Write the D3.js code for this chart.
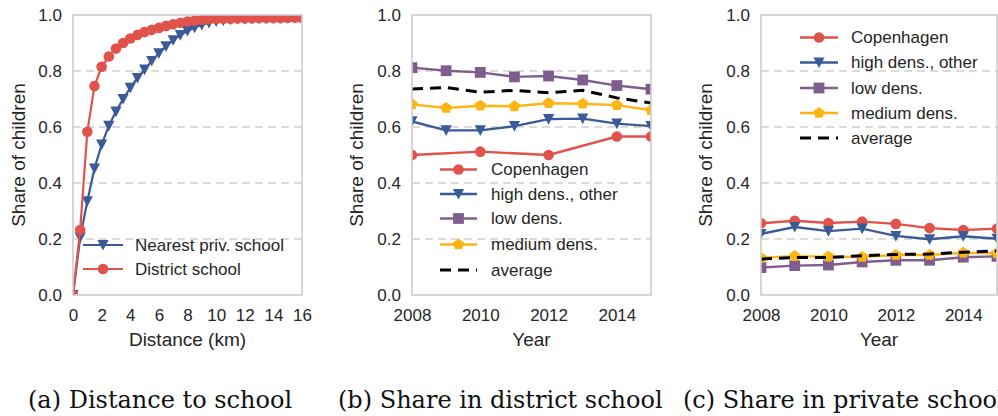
<!DOCTYPE html>
<html><head><meta charset="utf-8">
<script src="https://cdn.jsdelivr.net/npm/d3@7/dist/d3.min.js"></script>
<style>body{margin:0;background:#fff;} svg{display:block;}</style>
</head><body>
<svg id="chart" width="998" height="416"></svg>
<script>
// ---------------- DATA ----------------
const distanceKm = [0,0.5,1,1.5,2,2.5,3,3.5,4,4.5,5,5.5,6,6.5,7,7.5,8,8.5,9,9.5,10,10.5,11,11.5,12,12.5,13,13.5,14,14.5,15,15.5,16];
const nearestPrivSchool = [0.0,0.205,0.335,0.452,0.537,0.604,0.655,0.700,0.740,0.775,0.805,0.836,0.863,0.888,0.910,0.928,0.943,0.955,0.965,0.972,0.977,0.980,0.983,0.985,0.986,0.987,0.988,0.988,0.989,0.989,0.989,0.990,0.990];
const districtSchool = [0.0,0.232,0.583,0.746,0.815,0.852,0.880,0.900,0.916,0.929,0.939,0.947,0.954,0.961,0.967,0.972,0.977,0.980,0.983,0.985,0.986,0.987,0.987,0.988,0.988,0.988,0.989,0.989,0.989,0.989,0.990,0.990,0.990];

const years = [2008,2009,2010,2011,2012,2013,2014,2015];
// (b) share in district school
const distCopenhagen = [0.500,null,0.512,null,0.500,null,0.566,0.566];
const distHighDens   = [0.620,0.588,0.588,0.603,0.628,0.630,0.612,0.603];
const distLowDens    = [0.812,0.801,0.795,0.779,0.782,0.768,0.748,0.735];
const distMediumDens = [0.681,0.668,0.676,0.674,0.685,0.683,0.678,0.660];
const distAverage    = [0.736,0.741,0.724,0.731,0.722,0.731,0.704,0.686];
// (c) share in private school
const privCopenhagen = [0.256,0.265,0.257,0.262,0.254,0.239,0.232,0.237];
const privHighDens   = [0.218,0.243,0.228,0.237,0.211,0.199,0.210,0.201];
const privLowDens    = [0.098,0.105,0.107,0.118,0.124,0.124,0.135,0.138];
const privMediumDens = [0.133,0.139,0.137,0.136,0.143,0.143,0.151,0.149];
const privAverage    = [0.128,0.134,0.134,0.140,0.145,0.146,0.153,0.157];

const seriesNames = ["Copenhagen","high dens., other","low dens.","medium dens.","average"];
const distSeriesNames = ["Nearest priv. school","District school"];
const yTickValues = [0,0.2,0.4,0.6,0.8,1.0];
const distTickValues = [0,2,4,6,8,10,12,14,16];
const yearTickValues = [2008,2010,2012,2014];
const captions = ["(a) Distance to school","(b) Share in district school","(c) Share in private school"];

// ---------------- STYLE ----------------
const SANS = "'Liberation Sans', Arial, Helvetica, sans-serif";
const SERIF = "'DejaVu Serif', serif";
const TXT = "#262626";
const C = {red:"#e1524a", blue:"#3a5a98", purple:"#7f5e8f", yellow:"#fcb513", black:"#000000"};
const styles = [
  {color:C.red, marker:"circle"},
  {color:C.blue, marker:"tri"},
  {color:C.purple, marker:"square"},
  {color:C.yellow, marker:"pent"},
  {color:C.black, marker:null, dash:"11,7"}
];

function markerPath(type){
  if(type==="circle"){ const r=5.3; return `M${r},0A${r},${r} 0 1,1 ${-r},0A${r},${r} 0 1,1 ${r},0Z`; }
  if(type==="square"){ const h=5.4; return `M${-h},${-h}H${h}V${h}H${-h}Z`; }
  if(type==="tri"){ const h=5.6; return `M${-h},${-h*0.9}L${h},${-h*0.9}L0,${h*1.0}Z`; }
  if(type==="pent"){ const r=6; let p=""; for(let i=0;i<5;i++){const a=-Math.PI/2+i*2*Math.PI/5; p+=(i?"L":"M")+(r*Math.cos(a)).toFixed(2)+","+(r*Math.sin(a)).toFixed(2);} return p+"Z"; }
  return "";
}

const svg = d3.select("#chart");
const TOP = 15, BOTTOM = 295;

function makePanel(cfg, idx){
  const x = d3.scaleLinear().domain(cfg.xDomain).range([cfg.x0, cfg.x1]);
  const y = d3.scaleLinear().domain([0,1]).range([BOTTOM, TOP]);
  const g = svg.append("g");
  const clipId = "clip"+idx;
  svg.append("clipPath").attr("id", clipId).append("rect")
    .attr("x", cfg.x0).attr("y", TOP).attr("width", cfg.x1-cfg.x0).attr("height", BOTTOM-TOP);

  // grid
  g.selectAll("line.grid").data(yTickValues.filter(v=>v>0 && v<1)).join("line")
    .attr("x1", cfg.x0).attr("x2", cfg.x1)
    .attr("y1", d=>y(d)).attr("y2", d=>y(d))
    .attr("stroke", "#cfcfcf").attr("stroke-width", 1.4).attr("stroke-dasharray", "8,5");

  // series
  const plot = g.append("g").attr("clip-path", `url(#${clipId})`);
  cfg.series.forEach(s=>{
    const pts = cfg.xs.map((xv,i)=>({x:xv, y:s.values[i]})).filter(d=>d.y!==null);
    plot.append("path").datum(pts)
      .attr("fill","none").attr("stroke", s.style.color)
      .attr("stroke-width", s.style.dash ? 3 : cfg.lw)
      .attr("stroke-dasharray", s.style.dash || null)
      .attr("d", d3.line().x(d=>x(d.x)).y(d=>y(d.y)));
    if(s.style.marker){
      plot.selectAll(null).data(pts).join("path")
        .attr("transform", d=>`translate(${x(d.x)},${y(d.y)})`)
        .attr("d", markerPath(s.style.marker))
        .attr("fill", s.style.color);
    }
  });

  // spines
  g.append("rect").attr("x", cfg.x0).attr("y", TOP).attr("width", cfg.x1-cfg.x0).attr("height", BOTTOM-TOP)
    .attr("fill","none").attr("stroke","#cccccc").attr("stroke-width",1.6);

  // axes
  const ya = g.append("g").attr("transform", `translate(${cfg.x0},0)`)
    .call(d3.axisLeft(y).tickValues(yTickValues).tickSize(0).tickPadding(11).tickFormat(d3.format(".1f")));
  const xa = g.append("g").attr("transform", `translate(0,${BOTTOM})`)
    .call(d3.axisBottom(x).tickValues(cfg.xTicks).tickSize(0).tickPadding(14).tickFormat(cfg.xFormat));
  [ya, xa].forEach(a=>{
    a.select(".domain").remove();
    a.selectAll("text").attr("font-family", SANS).attr("font-size", 17).attr("fill", TXT);
  });

  // labels
  g.append("text").attr("transform", `translate(${cfg.yLabelX},${(TOP+BOTTOM)/2}) rotate(-90)`)
    .attr("text-anchor","middle").attr("dy","0.35em")
    .attr("font-family", SANS).attr("font-size", 19).attr("fill", TXT).text("Share of children");
  g.append("text").attr("x", (cfg.x0 + Math.min(cfg.x1, 998))/2 + (cfg.xLabelShift||0)).attr("y", 346)
    .attr("text-anchor","middle")
    .attr("font-family", SANS).attr("font-size", 19).attr("fill", TXT).text(cfg.xLabel);

  // legend
  const lg = g.append("g");
  cfg.series.forEach((s,i)=>{
    const ry = cfg.legend.rows[i];
    const L = cfg.legend;
    lg.append("line").attr("x1", L.x0).attr("x2", L.x1).attr("y1", ry).attr("y2", ry)
      .attr("stroke", s.style.color).attr("stroke-width", s.style.dash ? 3 : cfg.lw)
      .attr("stroke-dasharray", s.style.dash || null);
    if(s.style.marker){
      lg.append("path").attr("transform", `translate(${(L.x0+L.x1)/2},${ry})`)
        .attr("d", markerPath(s.style.marker)).attr("fill", s.style.color);
    }
    lg.append("text").attr("x", L.tx).attr("y", ry).attr("dy","0.35em")
      .attr("font-family", SANS).attr("font-size", 17).attr("fill", TXT).text(s.name);
  });

  // caption
  svg.append("text").attr("x", cfg.capX).attr("y", 407.5)
    .attr("font-family", SERIF).attr("font-size", 24).attr("fill", "#111").text(cfg.caption);
}

const yearFmt = d3.format("d");

makePanel({
  x0:73, x1:302, xDomain:[0,16], xs:distanceKm, xTicks:distTickValues, xFormat:d3.format("d"),
  lw:2.2, xLabel:"Distance (km)", yLabelX:18, capX:28, caption:captions[0],
  series:[
    {name:distSeriesNames[0], values:nearestPrivSchool, style:styles[1]},
    {name:distSeriesNames[1], values:districtSchool, style:styles[0]}
  ],
  legend:{x0:83, x1:123, tx:135, rows:[245,269]}
},0);

makePanel({
  x0:412, x1:651, xDomain:[2008,2015], xs:years, xTicks:yearTickValues, xFormat:yearFmt,
  lw:2.4, xLabel:"Year", yLabelX:356, capX:338, caption:captions[1],
  series:[
    {name:seriesNames[0], values:distCopenhagen, style:styles[0]},
    {name:seriesNames[1], values:distHighDens, style:styles[1]},
    {name:seriesNames[2], values:distLowDens, style:styles[2]},
    {name:seriesNames[3], values:distMediumDens, style:styles[3]},
    {name:seriesNames[4], values:distAverage, style:styles[4]}
  ],
  legend:{x0:440, x1:477, tx:491, rows:[169.5,194,218.5,244.5,270]}
},1);

makePanel({
  x0:761, x1:997, xDomain:[2008,2015], xs:years, xTicks:yearTickValues, xFormat:yearFmt,
  lw:2.4, xLabel:"Year", yLabelX:705, capX:683, caption:captions[2],
  series:[
    {name:seriesNames[0], values:privCopenhagen, style:styles[0]},
    {name:seriesNames[1], values:privHighDens, style:styles[1]},
    {name:seriesNames[2], values:privLowDens, style:styles[2]},
    {name:seriesNames[3], values:privMediumDens, style:styles[3]},
    {name:seriesNames[4], values:privAverage, style:styles[4]}
  ],
  legend:{x0:800, x1:838, tx:851, rows:[37.5,62.5,88,113,138]}
},2);
</script>
</body></html>
